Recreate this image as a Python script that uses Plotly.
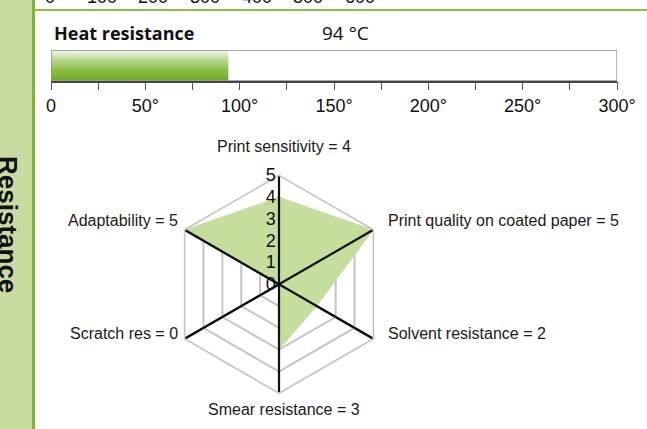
import math
import plotly.graph_objects as go

W, H = 647, 429

# ---------------- data ----------------
HEAT_LABEL = "Heat resistance"
HEAT_VALUE = 94
HEAT_UNIT = "°C"
HEAT_MAX = 300
HEAT_TICKS = [0, 25, 50, 75, 100, 125, 150, 175, 200, 225, 250, 275, 300]
HEAT_TICK_TEXT = ["0", "", "50°", "", "100°", "", "150°", "", "200°", "", "250°", "", "300°"]

PREV_TICKS = [0, 100, 200, 300, 400, 500, 600]

SECTION_TITLE = "Resistance"

RADAR_CATEGORIES = [
    "Print sensitivity",
    "Print quality on coated paper",
    "Solvent resistance",
    "Smear resistance",
    "Scratch res",
    "Adaptability",
]
RADAR_VALUES = [4, 5, 2, 3, 0, 5]
RADAR_MAX = 5
RADAR_TICKS = [0, 1, 2, 3, 4, 5]


def px_x(p):
    return p / W


def px_y(p):
    return 1 - p / H


fig = go.Figure()

# ---------------- heat resistance bar (gradient fill) ----------------
fig.add_trace(go.Scatter(
    x=[0, HEAT_VALUE, HEAT_VALUE, 0, 0],
    y=[0, 0, 1, 1, 0],
    fill="toself",
    mode="lines",
    line=dict(width=0, color="rgba(0,0,0,0)"),
    fillgradient=dict(
        type="vertical",
        colorscale=[[0, "#6fab22"], [0.35, "#8cbf45"], [0.7, "#bcd99a"], [1, "#f6faf0"]],
        start=0, stop=1,
    ),
    xaxis="x", yaxis="y",
    hoverinfo="skip", showlegend=False,
))

# ---------------- radar ----------------
theta_closed = RADAR_CATEGORIES + [RADAR_CATEGORIES[0]]
r_closed = RADAR_VALUES + [RADAR_VALUES[0]]
fig.add_trace(go.Scatterpolar(
    r=r_closed, theta=theta_closed,
    fill="toself", fillcolor="#c6de9c",
    mode="lines", line=dict(width=0.5, color="#c6de9c"),
    showlegend=False, hoverinfo="skip",
))
# spokes drawn above the fill
sp_r, sp_t = [], []
for c in RADAR_CATEGORIES:
    sp_r += [0, RADAR_MAX, None]
    sp_t += [c, c, None]
fig.add_trace(go.Scatterpolar(
    r=sp_r, theta=sp_t, mode="lines",
    line=dict(color="#111111", width=2.2),
    showlegend=False, hoverinfo="skip", connectgaps=False,
))

radar_labels = [f"{c} = {v}" for c, v in zip(RADAR_CATEGORIES, RADAR_VALUES)]

cx, cy, R = 279, 284.3, 109
fig.update_layout(
    polar=dict(
        domain=dict(x=[px_x(cx - R), px_x(cx + R)], y=[px_y(cy + R), px_y(cy - R)]),
        bgcolor="white",
        gridshape="linear",
        radialaxis=dict(
            range=[0, RADAR_MAX], tickvals=RADAR_TICKS,
            angle=90, side="counterclockwise", tickangle=90,
            showline=False, ticks="",
            gridcolor="#c4c4c4", gridwidth=1.6,
            tickfont=dict(family="Liberation Sans", size=18, color="#111"),
            layer="above traces",
        ),
        angularaxis=dict(
            rotation=90, direction="clockwise",
            categoryarray=RADAR_CATEGORIES, categoryorder="array",
            showticklabels=False,
            showline=True, linecolor="#c4c4c4", linewidth=1.6,
            gridcolor="#111111", gridwidth=2, ticks="",
        ),
    ),
)

# ---------------- axes for bar ----------------
fig.update_layout(
    xaxis=dict(
        domain=[px_x(51), px_x(617)], range=[0, HEAT_MAX],
        tickmode="array", tickvals=HEAT_TICKS, ticktext=HEAT_TICK_TEXT,
        ticks="outside", ticklen=8, tickwidth=1.3, tickcolor="#555",
        showline=True, linecolor="#444", linewidth=1.5,
        showgrid=False, zeroline=False, fixedrange=True, automargin=False,
        tickfont=dict(family="Liberation Sans", size=18, color="#111"),
        anchor="y",
    ),
    yaxis=dict(
        domain=[px_y(80.7), px_y(50)], range=[0, 1],
        visible=False, fixedrange=True, anchor="x", automargin=False,
    ),
    xaxis3=dict(
        domain=[px_x(50), px_x(360)], range=[PREV_TICKS[0], PREV_TICKS[-1]],
        visible=False, anchor="y3", automargin=False,
    ),
    yaxis3=dict(domain=[0.98, 1], range=[0, 1], visible=False, anchor="x3", automargin=False),
)

shapes = [
    # sidebar
    dict(type="rect", xref="paper", yref="paper", x0=0, x1=px_x(32), y0=0, y1=1,
         fillcolor="#c8dca0", line=dict(width=0), layer="below"),
    dict(type="line", xref="paper", yref="paper", x0=px_x(33.5), x1=px_x(33.5), y0=0, y1=1,
         line=dict(color="#80b62c", width=3)),
    dict(type="line", xref="paper", yref="paper", x0=px_x(33), x1=1, y0=px_y(10), y1=px_y(10),
         line=dict(color="#8cc03c", width=2)),
    # bar frame
    dict(type="rect", xref="x", yref="y", x0=0, x1=HEAT_MAX, y0=0, y1=1,
         line=dict(color="#8f8f8f", width=1.3), fillcolor="rgba(0,0,0,0)"),
]

annotations = [
    dict(text=f"<b>{SECTION_TITLE}</b>", textangle=90, xref="paper", yref="paper",
         x=px_x(8), y=px_y(224), xanchor="center", yanchor="middle", showarrow=False,
         font=dict(family="Liberation Sans", size=26, color="#111")),
    dict(text=f"<b>{HEAT_LABEL}</b>", xref="paper", yref="paper",
         x=px_x(52), y=px_y(33), xanchor="left", yanchor="middle", showarrow=False,
         font=dict(family="Open Sans", size=18, color="#111")),
    dict(text=f"{HEAT_VALUE} {HEAT_UNIT}", xref="paper", yref="paper",
         x=px_x(320), y=px_y(33), xanchor="left", yanchor="middle", showarrow=False,
         font=dict(family="Open Sans", size=19, color="#111")),
]
for v in PREV_TICKS:
    annotations.append(dict(
        text=str(v), xref="x3", yref="paper", x=v, y=px_y(9),
        xanchor="center", yanchor="bottom", showarrow=False,
        font=dict(family="Liberation Sans", size=18, color="#111")))

# radar category labels placed around the hexagon vertices
n = len(RADAR_CATEGORIES)
for i, lab in enumerate(radar_labels):
    ang = math.radians(90 - 360 * i / n)
    vx = cx + R * math.cos(ang)
    vy = cy - R * math.sin(ang)
    c = math.cos(ang)
    s = math.sin(ang)
    dy = -9 if s > 0 else -5
    if c > 0.1:
        xa, lx, ly = "left", vx + 13, vy + dy
    elif c < -0.1:
        xa, lx, ly = "right", vx - 5, vy + dy
    else:
        xa, lx = "center", vx + 5
        ly = vy - 29 if s > 0 else vy + 16
    annotations.append(dict(
        text=lab, xref="paper", yref="paper", x=px_x(lx), y=px_y(ly),
        xanchor=xa, yanchor="middle", showarrow=False,
        font=dict(family="Liberation Sans", size=16, color="#1a1a1a")))

fig.update_layout(
    width=W, height=H, margin=dict(l=0, r=0, t=0, b=0, autoexpand=False),
    paper_bgcolor="white", plot_bgcolor="white",
    shapes=shapes, annotations=annotations, showlegend=False,
)

fig.write_html("out.html", config={"displayModeBar": False},
               post_script="document.body.style.margin='0px';")
